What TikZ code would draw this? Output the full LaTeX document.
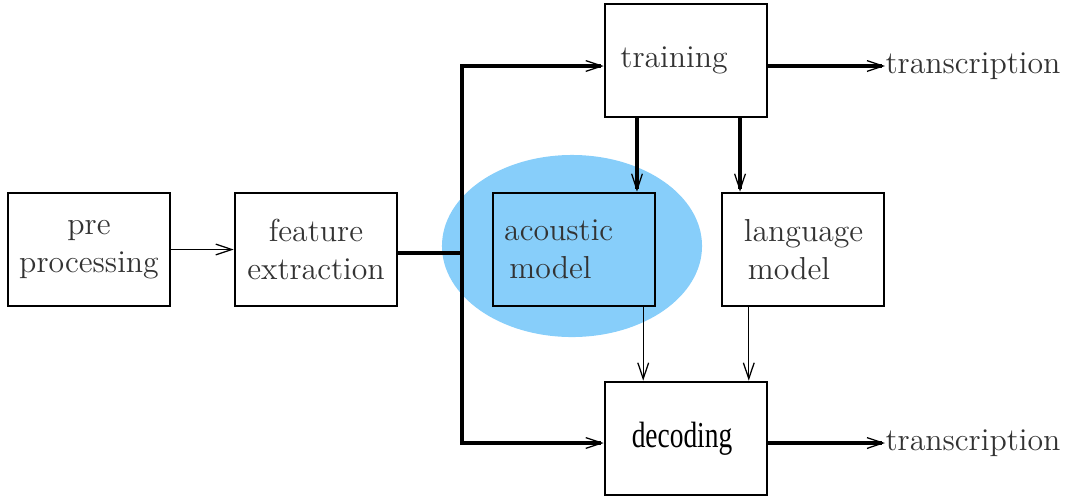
\documentclass[tikz,border=0pt]{standalone}
\usepackage{fontspec}
\newfontfamily\decfont{Liberation Serif}
\usetikzlibrary{arrows.meta,positioning}
\definecolor{textgray}{rgb}{0.2,0.2,0.2}
\definecolor{amblue}{HTML}{87CEFA}

\begin{document}
\begin{tikzpicture}[
  x=0.0125cm, y=-0.0125cm,
  node distance=0.78cm,
  blk/.style={draw, line width=0.9pt, minimum width=2.025cm, minimum height=1.4125cm,
              inner sep=2pt, font=\fontsize{11.3}{13.5}\selectfont, text=textgray, align=center},
  mdl/.style={blk, text width=1.75cm, align=left},
  lbl/.style={font=\fontsize{11.3}{13.5}\selectfont, text=textgray, inner sep=0pt},
  tip/.tip={Straight Barb[length=2mm,width=1.35mm,line width=0.45pt]},
  sarr/.style={-tip, line width=0.4pt},
  barr/.style={-tip, line width=1.1pt}
]
  \useasboundingbox (0,0) rectangle (1066,498);

  % acoustic model highlight
  \fill[amblue] (572,246) ellipse [x radius=1.625cm, y radius=1.1375cm];

  % front end
  \node[blk] (pre) at (89,249.5) {pre\\processing};
  \node[blk, right=of pre] (feat) {feature\\extraction};

  % models
  \node[mdl, right=1.17cm of feat] (acou) {acoustic\\\,model};
  \node[mdl, right=0.8cm of acou] (lang) {\hspace*{0.14cm}language\\\hspace*{0.19cm}model};

  % training and decoding
  \node[blk] (train) at (686,60.5) {training\hspace{0.3cm}};
  \node[blk, font=\decfont\fontsize{13}{15}\selectfont, text=black] (dec) at (686,438.5)
       {\scalebox{0.75}[1]{decoding}\hspace{0.1cm}};

  \node[lbl, anchor=west] (out1) at (885,66) {transcription};
  \node[lbl, anchor=west] (out2) at (885,443) {transcription};

  \coordinate (split) at (462,253);

  % connectors
  \draw[sarr] (pre.east) -- (feat.west);
  \draw[line width=1.1pt] (feat.east |- split) -- (split);
  \draw[barr, tip-tip] (train.west |- out1.west) -- (split |- out1.west)
        -- (split |- out2.west) -- (dec.west |- out2.west);
  \draw[barr] ([xshift=-0.6125cm]train.south) -- ([xshift=-0.6125cm]train.south |- acou.north);
  \draw[barr] ([xshift=0.675cm]train.south) -- ([xshift=0.675cm]train.south |- lang.north);
  \draw[sarr] ([xshift=0.8625cm]acou.south) -- ([xshift=0.8625cm]acou.south |- dec.north);
  \draw[sarr] ([xshift=-0.675cm]lang.south) -- ([xshift=-0.675cm]lang.south |- dec.north);
  \draw[barr] (train.east |- out1.west) -- (out1.west);
  \draw[barr] (dec.east |- out2.west) -- (out2.west);
\end{tikzpicture}
\end{document}
